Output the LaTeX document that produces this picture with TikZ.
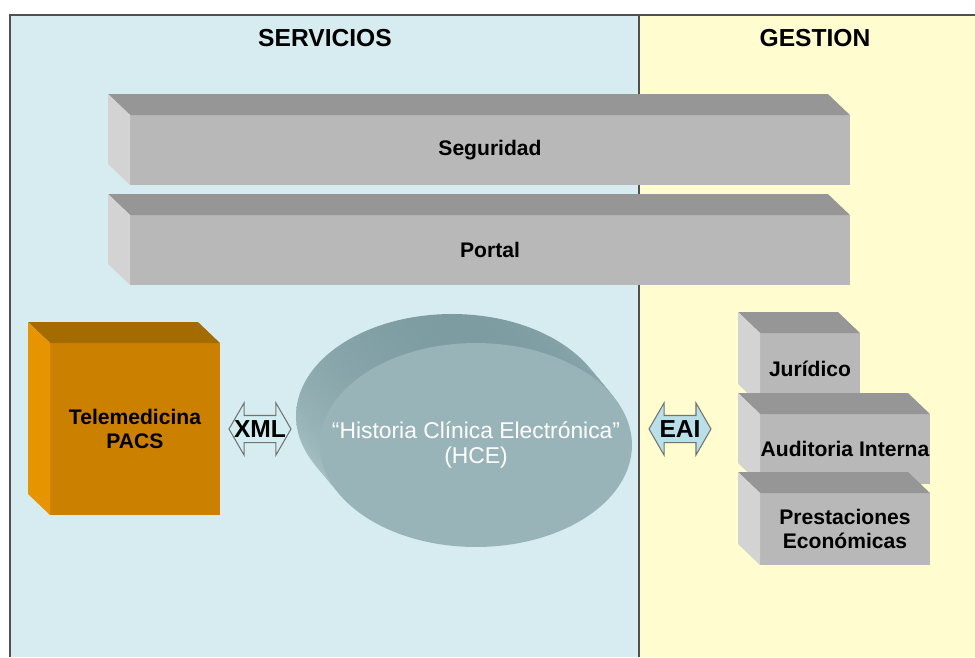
\documentclass[tikz,border=0pt]{standalone}
\usepackage{fontspec}
\setmainfont{Liberation Sans}
\usetikzlibrary{shapes.geometric}
\usetikzlibrary{shapes.arrows}

\definecolor{servfill}{HTML}{D7ECF0}
\definecolor{gestfill}{HTML}{FFFDD0}
\definecolor{framecol}{HTML}{505050}
\definecolor{greyfront}{HTML}{B8B8B8}
\definecolor{greytop}{HTML}{969696}
\definecolor{greyside}{HTML}{D3D3D3}
\definecolor{orfront}{HTML}{CC8000}
\definecolor{ortop}{HTML}{A36B00}
\definecolor{orside}{HTML}{E69500}
\definecolor{hcefront}{HTML}{99B4B8}
\definecolor{hcedark}{HTML}{7D9CA1}
\definecolor{hcelight}{HTML}{B6CED1}
\definecolor{xmlfill}{HTML}{D2EEF0}
\definecolor{eaifill}{HTML}{B9E0E8}

% top and left faces of a block, from the front node
\newcommand{\blocksides}[3]{
  \fill[#2] (#1.north west) -- ++(-22,-21) -- ([shift={(-22,-21)}]#1.north east) -- (#1.north east) -- cycle;
  \fill[#3] (#1.north west) -- ++(-22,-21) -- ([shift={(-22,-21)}]#1.south west) -- (#1.south west) -- cycle;
}

\tikzset{
  paneltitle/.style={font=\fontsize{14}{16}\selectfont\bfseries},
  front/.style={fill=greyfront, inner sep=0pt, outer sep=0pt, align=center,
    font=\fontsize{12}{13.5}\selectfont\bfseries},
  hceshape/.style={ellipse, inner sep=0pt, outer sep=0pt, minimum width=6.24cm, minimum height=4.08cm},
  dblarrow/.style={double arrow, draw=framecol!80, line width=0.6pt, inner xsep=0pt, inner ysep=0.26cm,
    minimum height=1.24cm, double arrow head extend=0.25cm, double arrow tip angle=120},
  arrowlbl/.style={font=\fontsize{14}{15}\selectfont\bfseries, inner sep=0pt},
}

\begin{document}
\begin{tikzpicture}[x=0.02cm, y=-0.02cm]
  \useasboundingbox (0,0) rectangle (975,657);
  % panels
  \fill[servfill] (10,15) rectangle (639,657);
  \fill[gestfill] (639,15) rectangle (975,657);
  \draw[framecol, line width=1.2pt] (10,657) -- (10,15) -- (975,15);
  \draw[framecol, line width=0.8pt] (639,15) -- (639,657);
  \node[paneltitle] (servicios) at (325,38) {SERVICIOS};
  \node[paneltitle] (gestion) at (815,38) {GESTION};

  % bars
  \node[front, minimum width=14.4cm, minimum height=1.4cm] (seguridad) at (490,150) {Seguridad};
  \blocksides{seguridad}{greytop}{greyside}
  \node[front, minimum width=14.4cm, minimum height=1.4cm] (portal) at (490,250) {Portal};
  \blocksides{portal}{greytop}{greyside}

  % servicios
  \node[front, fill=orfront, minimum width=3.4cm, minimum height=3.44cm] (tele) at (135,429) {Telemedicina\\PACS};
  \blocksides{tele}{ortop}{orside}
  % extruded side of the HCE disc
  \foreach \k in {0,...,11}
    \shade[top color=hcedark, bottom color=hcelight] ({452+2*\k},{416+2.4*\k}) ellipse [x radius=3.12cm, y radius=2.04cm];
  \node[hceshape, fill=hcefront] (hce) at (476,445) {};
  \node[align=center, text=white, font=\fontsize{13}{14.5}\selectfont] (hcetxt) at (hce)
    {“Historia Clínica Electrónica”\\(HCE)};
  \node[dblarrow, fill=xmlfill] (xml) at (260,429) {};
  \node[arrowlbl] (xmltxt) at (xml) {XML};
  \node[dblarrow, fill=eaifill] (eai) at (680,429) {};
  \node[arrowlbl] (eaitxt) at (eai) {EAI};

  % gestion
  \node[front, minimum width=2cm, minimum height=1.44cm] (juridico) at (810,369) {Jurídico};
  \blocksides{juridico}{greytop}{greyside}
  \node[front, minimum width=3.4cm, minimum height=1.4cm] (auditoria) at (845,449) {Auditoria Interna};
  \blocksides{auditoria}{greytop}{greyside}
  \node[front, minimum width=3.4cm, minimum height=1.44cm] (prestaciones) at (845,529) {Prestaciones\\Económicas};
  \blocksides{prestaciones}{greytop}{greyside}
\end{tikzpicture}
\end{document}
